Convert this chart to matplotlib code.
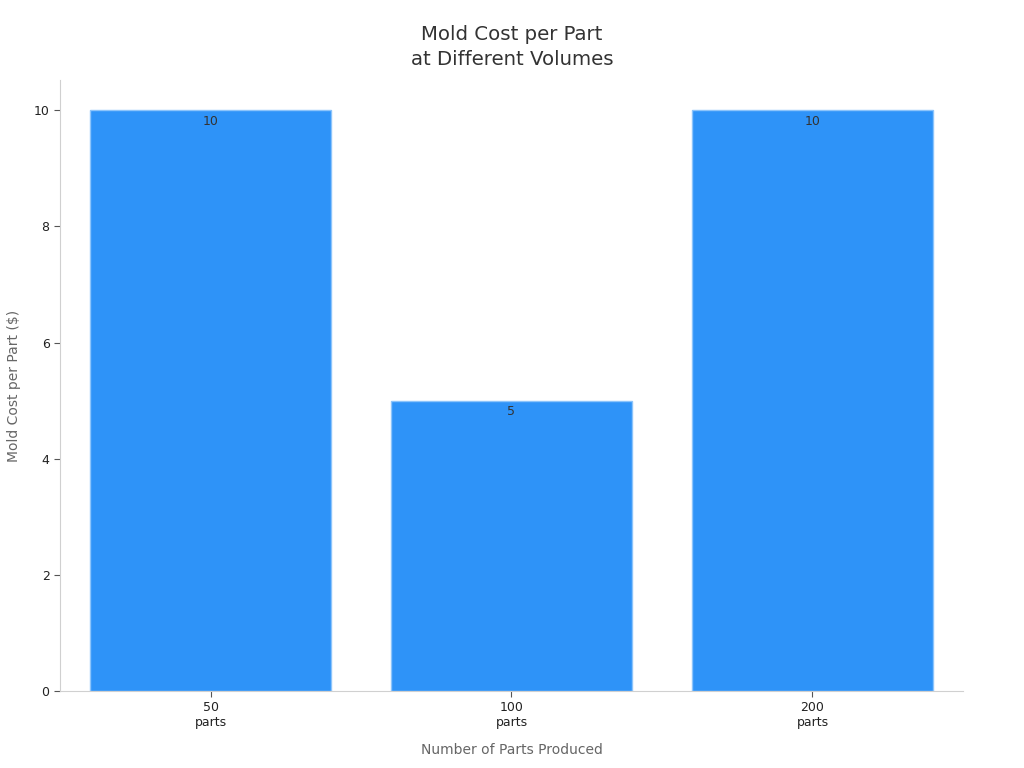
import matplotlib
matplotlib.use('Agg')
import matplotlib.pyplot as plt

categories = ['50\nparts', '100\nparts', '200\nparts']
mold_cost = [10, 5, 10]

fig = plt.figure(figsize=(10.24, 7.68), dpi=100)
ax = fig.add_axes([0.0586, 0.1003, 0.8818, 0.7955])

x = list(range(len(categories)))
bars = ax.bar(x, mold_cost, width=0.8, color='#2e93f8', edgecolor='#8cc4fb', linewidth=1)

for b, v in zip(bars, mold_cost):
	ax.text(b.get_x() + b.get_width() / 2, v - 0.08, str(v), ha='center', va='top',
		fontsize=9, color='#333333')

ax.set_xlim(-0.5, 2.5)
ax.set_ylim(0, 10.52)
ax.set_xticks(x)
ax.set_xticklabels(categories, fontsize=9, color='#222222')
ax.set_yticks([0, 2, 4, 6, 8, 10])
ax.tick_params(axis='y', labelsize=9, colors='#222222')
ax.tick_params(axis='both', color='#555555', length=4)

for s in ['top', 'right']:
	ax.spines[s].set_visible(False)
for s in ['left', 'bottom']:
	ax.spines[s].set_color('#d0d0d0')

ax.set_xlabel('Number of Parts Produced', fontsize=10, color='#666666', labelpad=10)
ax.set_ylabel('Mold Cost per Part ($)', fontsize=10, color='#666666', labelpad=9)
fig.suptitle('Mold Cost per Part\nat Different Volumes', fontsize=14.2, color='#333333',
	y=0.968, linespacing=1.45)

fig.savefig('out.png', dpi=100)
